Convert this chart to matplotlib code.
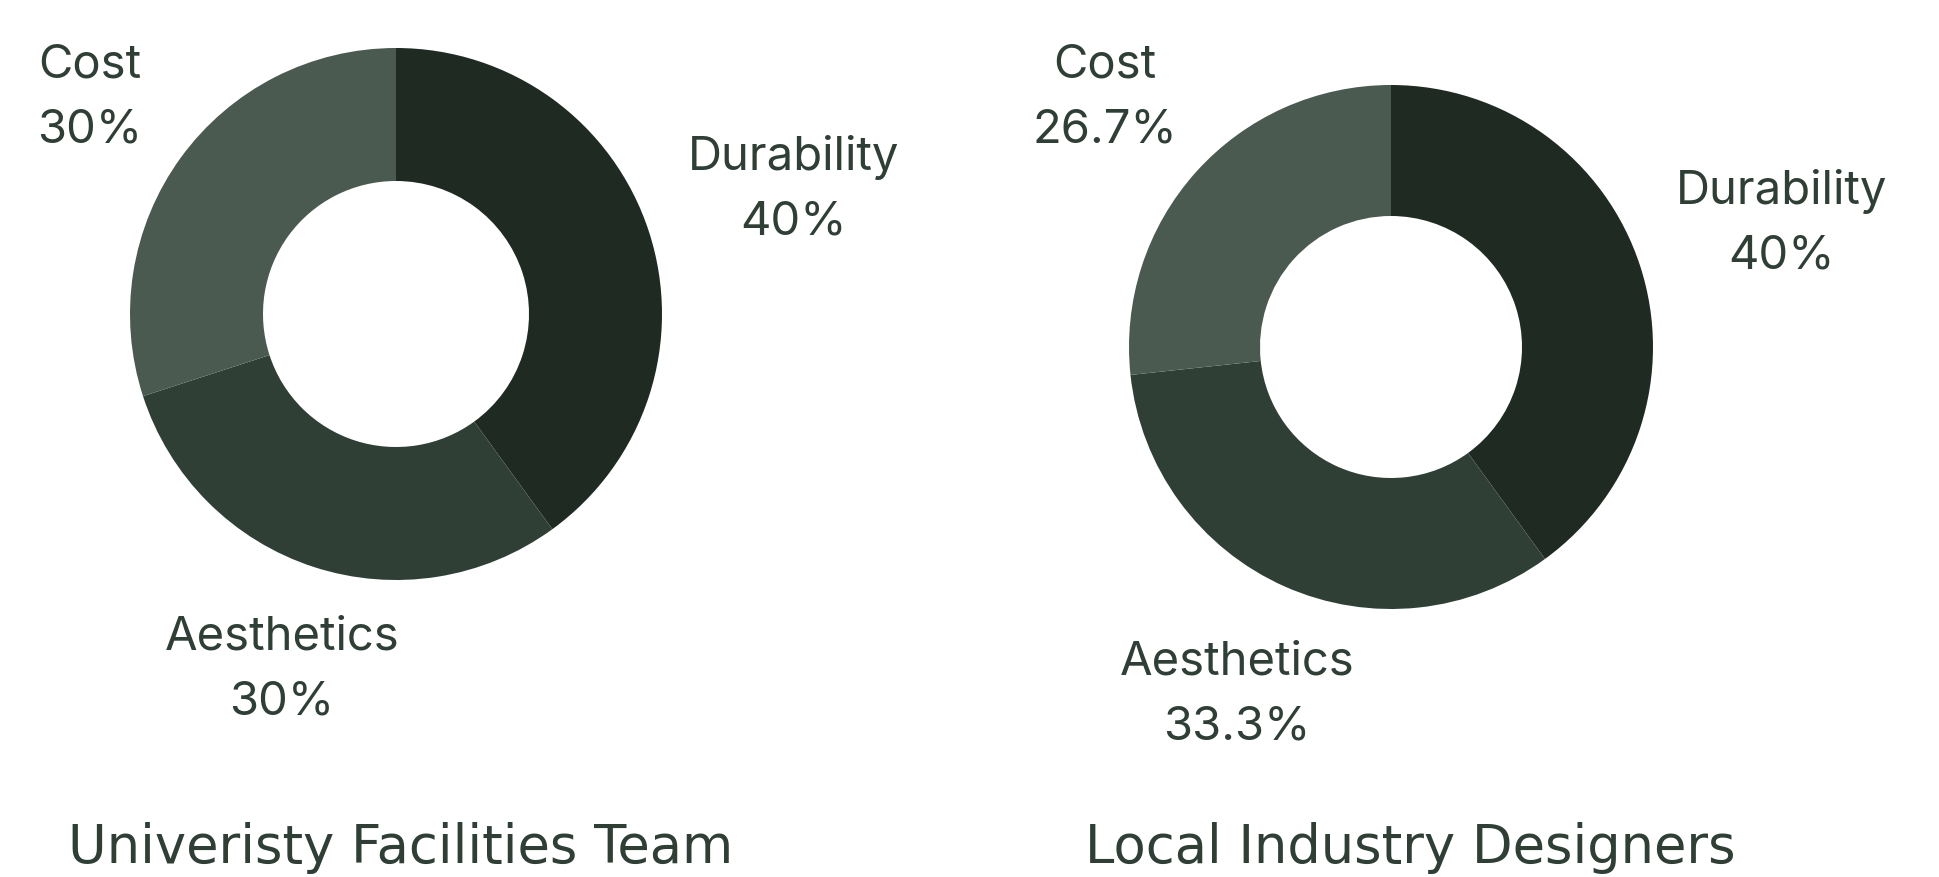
import matplotlib
matplotlib.use("Agg")
import matplotlib.pyplot as plt

categories = ["Durability", "Aesthetics", "Cost"]
university = [40, 30, 30]
industry = [40, 33.3, 26.7]
titles = ["Univeristy Facilities Team", "Local Industry Designers"]
colors = ["#1f2b22", "#2f3f36", "#4a5a50"]
text_color = "#2f3f36"

W, H = 1940, 878
fig = plt.figure(figsize=(W / 100, H / 100), dpi=100)
ax = fig.add_axes([0, 0, 1, 1])
ax.set_xlim(0, W)
ax.set_ylim(0, H)
ax.set_aspect("equal")
ax.axis("off")

# donut centre / radius in pixel space, label spots per category
layouts = [
    dict(center=(396, H - 315), r=266,
         labels={"Durability": (794, H - 190), "Aesthetics": (282, H - 670), "Cost": (90, H - 98)},
         title=(401, H - 848)),
    dict(center=(1391, H - 348), r=262,
         labels={"Durability": (1782, H - 224), "Aesthetics": (1237, H - 695), "Cost": (1105, H - 98)},
         title=(1410, H - 848)),
]

for vals, title, lay in zip([university, industry], titles, layouts):
    ax.pie(vals, colors=colors, startangle=90, counterclock=False,
           center=lay["center"], radius=lay["r"],
           wedgeprops=dict(width=lay["r"] * 0.5, linewidth=0))
    for cat, v in zip(categories, vals):
        x, y = lay["labels"][cat]
        pct = f"{v:g}%"
        ax.text(x, y, f"{cat}\n{pct}", ha="center", va="center",
                fontsize=34, color=text_color, family="Inter",
                linespacing=1.6)
    ax.text(lay["title"][0], lay["title"][1], title, ha="center", va="center",
            fontsize=38, color=text_color, family="DejaVu Sans")

ax.set_xlim(0, W)
ax.set_ylim(0, H)
fig.savefig("out.png", dpi=100, facecolor="white")
